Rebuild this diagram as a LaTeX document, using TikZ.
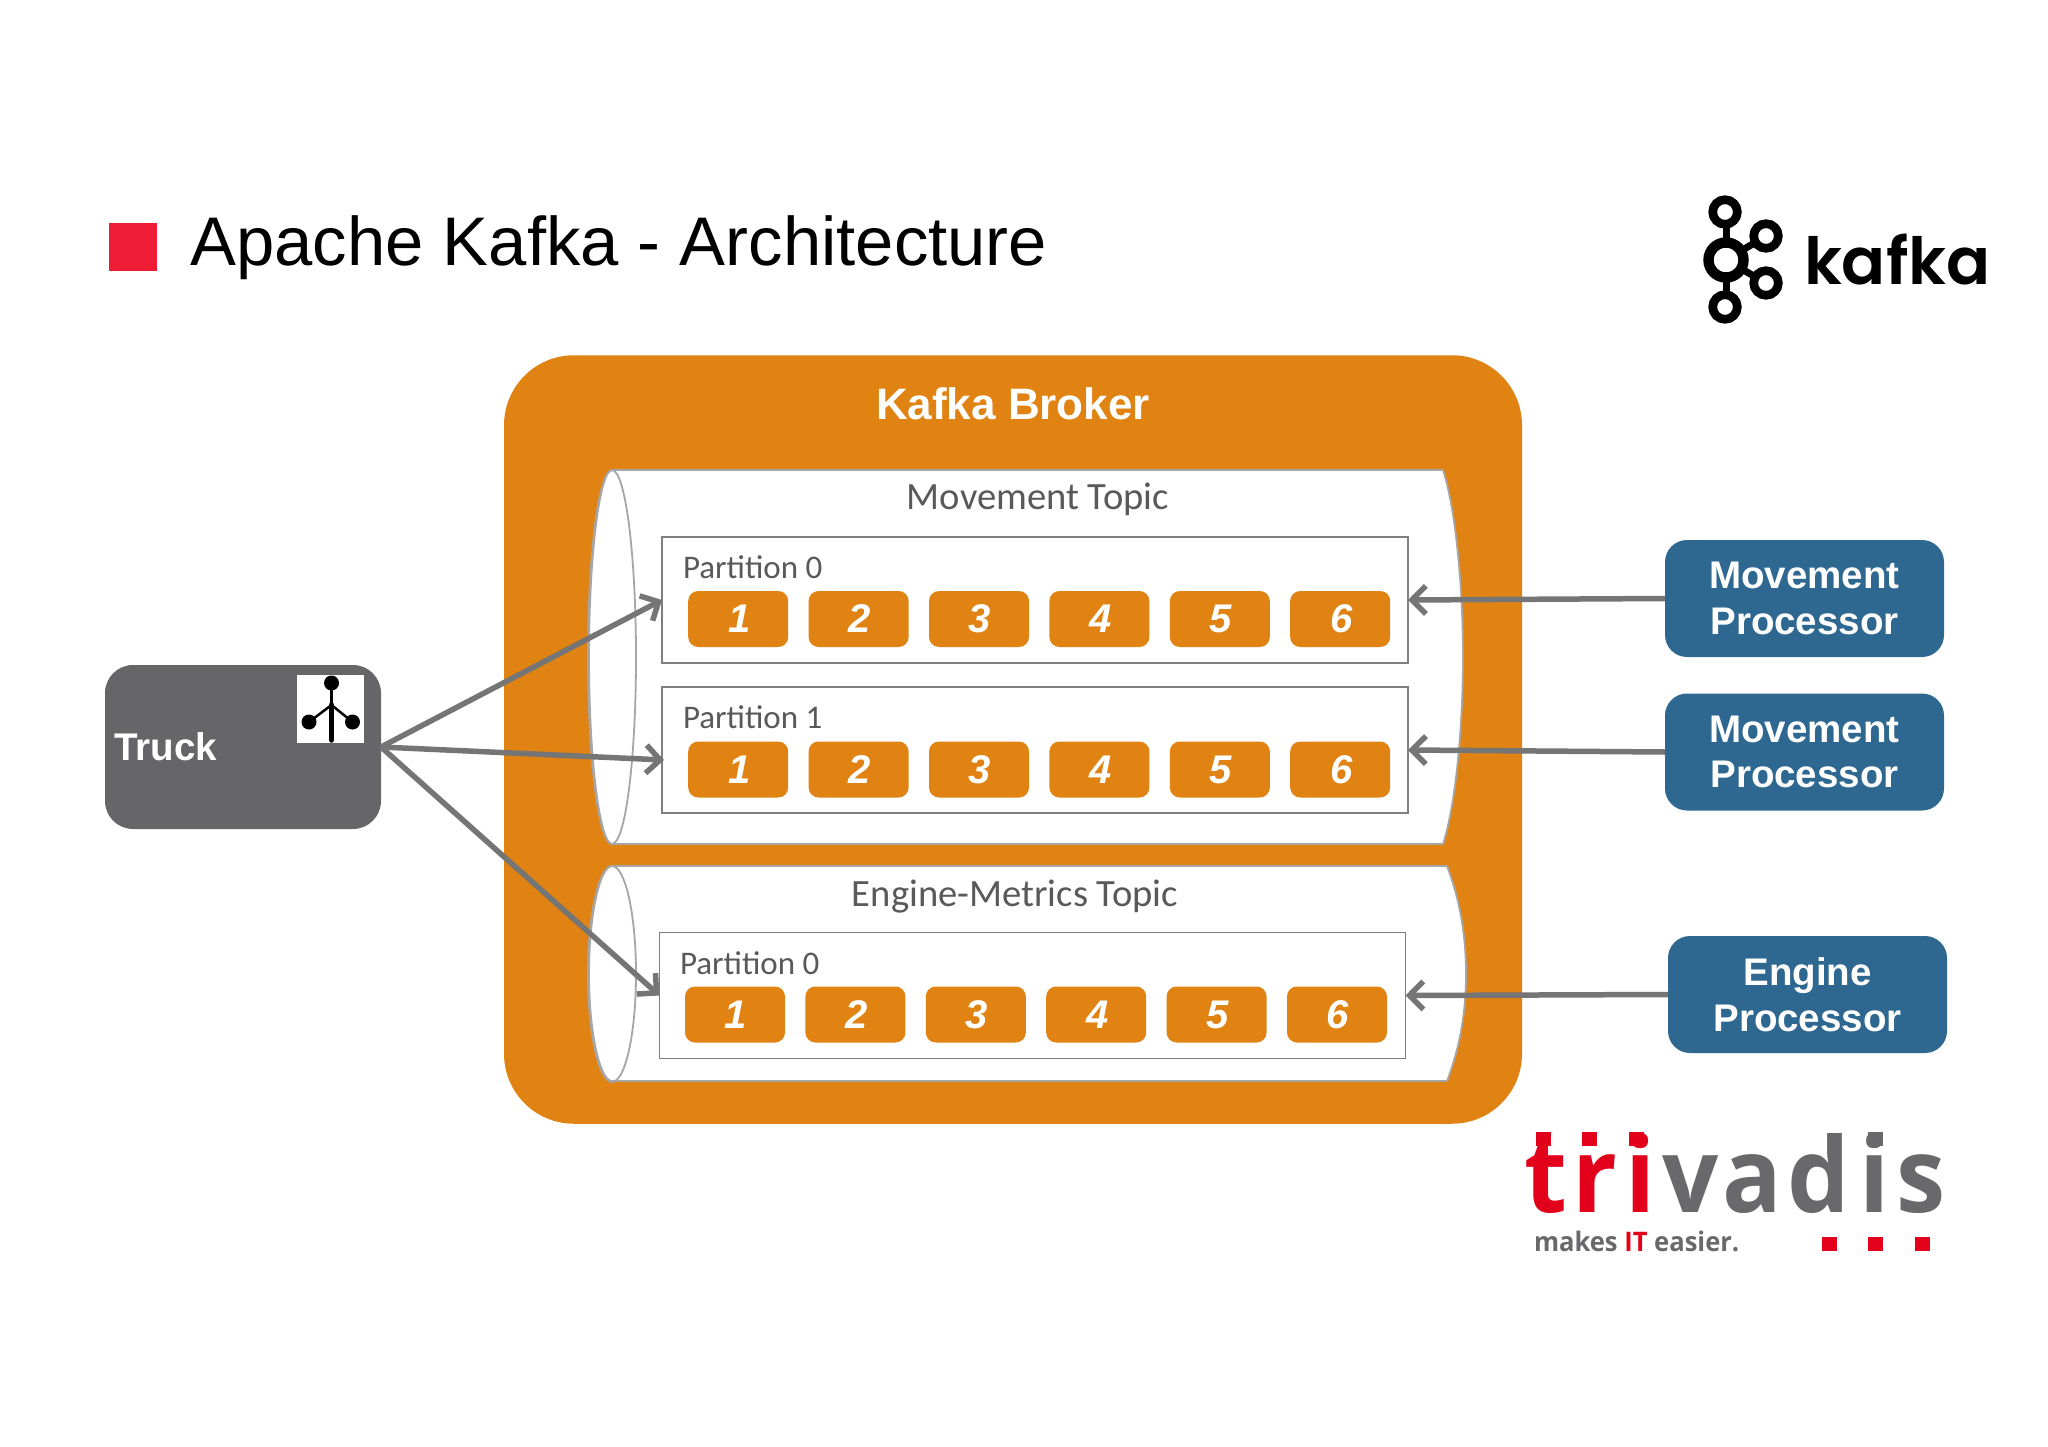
\documentclass[tikz,border=0pt]{standalone}
\usepackage{fontspec}
\usetikzlibrary{arrows.meta}
\setmainfont{Liberation Sans}
\newfontfamily\calfont{Carlito}
\newfontfamily\popfont{Poppins SemiBold}
\newfontfamily\ossemi[FakeStretch=0.95]{Open Sans}
\definecolor{brokerorange}{HTML}{E08312}
\definecolor{truckgrey}{HTML}{666568}
\definecolor{procblue}{HTML}{2E6891}
\definecolor{linegrey}{HTML}{757575}
\definecolor{framegrey}{HTML}{7F7F7F}
\definecolor{cylgrey}{HTML}{A6A6A6}
\definecolor{labelgrey}{HTML}{595959}
\definecolor{titlered}{HTML}{EF1C36}
\definecolor{trired}{HTML}{E2001A}
\definecolor{trigrey}{HTML}{69696B}
\tikzset{
  x=1pt,y=-1pt,
  plain/.style={inner sep=0pt,outer sep=0pt},
  broker/.style={plain,fill=brokerorange,rounded corners=70pt,minimum width=1018pt,minimum height=768.5pt},
  truckbox/.style={plain,fill=truckgrey,rounded corners=28pt,minimum width=276pt,minimum height=164pt},
  proc/.style={plain,fill=procblue,rounded corners=22pt,minimum width=279pt,minimum height=117pt,text=white,align=center,font=\fontsize{38.5}{45.5}\selectfont\bfseries,execute at begin node=\rule{0pt}{33pt}},
  partbox/.style={plain,draw=framegrey,line width=1.8pt,fill=white,minimum width=746pt,minimum height=126pt},
  seg/.style={plain,fill=brokerorange,rounded corners=10pt,minimum width=100pt,minimum height=56pt,text=white,font=\fontsize{40}{42}\selectfont\bfseries\itshape},
  parttext/.style={plain,anchor=base west,text=labelgrey,font=\calfont\fontsize{33}{36}\selectfont},
  topictext/.style={plain,anchor=base,text=labelgrey,font=\calfont\fontsize{38.6}{40}\selectfont},
  cyl/.style={draw=cylgrey,line width=1.8pt,fill=white},
  conn/.style={draw=linegrey,line width=5.5pt,-{Straight Barb[length=14pt,width=28pt,line width=5.5pt]}},
  ringsmall/.style={draw=black,line width=8.7pt,fill=white},
  ringbig/.style={draw=black,line width=10.4pt,fill=white},
  spoke/.style={draw=black,line width=7pt},
}
\begin{document}
\begin{tikzpicture}
\useasboundingbox (0,0) rectangle (2048,1447);
\fill[white] (0,0) rectangle (2048,1447);
% title
\fill[titlered] (109,223) rectangle (157,271);
\node[plain,anchor=base west,font=\fontsize{68.8}{72}\selectfont,text=black] (title) at (190.5,266) {Apache Kafka - Architecture};
% kafka logo
\draw[spoke] (1726,212) -- (1726,307);
\draw[spoke] (1726,260) -- (1766,236);
\draw[spoke] (1726,260) -- (1766,283);
\draw[ringsmall] (1725,212) circle (12.3);
\draw[ringsmall] (1725,307) circle (12.3);
\draw[ringsmall] (1766,236) circle (12.3);
\draw[ringsmall] (1766,283) circle (12.3);
\draw[ringbig] (1726,260) circle (17.5);
\node[plain,anchor=base west,font=\popfont\fontsize{65}{70}\selectfont,text=black] (kafkaword) at (1804,285) {kafka};
% broker
\node[broker] (brk) at (1013,739.5) {};
\node[plain,anchor=base,text=white,font=\fontsize{44}{48}\selectfont\bfseries] (brktext) at (1013,419) {Kafka Broker};
% movement cylinder
\path[cyl] (612,470) -- (1443,470) .. controls (1456,510) and (1463,590) .. (1463,657) .. controls (1463,724) and (1456,804) .. (1443,844) -- (612,844) .. controls (600,844) and (589,761) .. (589,657) .. controls (589,553) and (600,470) .. (612,470) -- cycle;
\draw[cyl,fill=none] (612,657) ellipse [x radius=24,y radius=187];
\node[topictext] (mt) at (1038,509) {Movement Topic};
% engine cylinder
\path[cyl] (612,866) -- (1447,866) .. controls (1458,895) and (1466,930) .. (1466,974) .. controls (1466,1018) and (1458,1052) .. (1447,1081) -- (612,1081) .. controls (600,1081) and (589,1033) .. (589,974) .. controls (589,914) and (600,866) .. (612,866) -- cycle;
\draw[cyl,fill=none] (612,974) ellipse [x radius=24,y radius=108];
\node[topictext] (et) at (1015,906) {Engine-Metrics Topic};
% partitions
\node[partbox] (pa) at (1035,600) {};
\node[partbox] (pb) at (1035,750) {};
\node[partbox] (pc) at (1032.5,995.5) {};
\node[parttext] (pat) at (683,578) {Partition 0};
\node[parttext] (pbt) at (683,728) {Partition 1};
\node[parttext] (pct) at (680,974) {Partition 0};
\foreach \n in {1,...,6}{
  \node[seg] (sa\n) at ({738.2+(\n-1)*120.4},619) {\kern2pt\n};
  \node[seg] (sb\n) at ({738.2+(\n-1)*120.4},769.5) {\kern2pt\n};
  \node[seg] (sc\n) at ({735+(\n-1)*120.4},1014.5) {\kern2pt\n};
}
% truck
\node[truckbox] (truck) at (243,747) {};
\node[plain,anchor=base west,text=white,font=\fontsize{38.6}{40}\selectfont\bfseries] (trucktext) at (114,760) {Truck};
\fill[white] (297,675) rectangle (364,743);
\draw[black,line width=2.5pt] (331.5,683) -- (331.5,705);
\draw[black,line width=2.5pt] (309,722) -- (331.5,705) -- (352.5,722);
\draw[black,line width=5.5pt,line cap=round] (331.5,705) -- (331.5,740);
\fill[black] (331.5,683) circle (7.5);
\fill[black] (309,722) circle (7.5);
\fill[black] (352.5,722) circle (7.5);
% processors
\node[proc] (ma) at (1804.5,598.5) {Movement\\Processor};
\node[proc] (mb) at (1804.5,752) {Movement\\Processor};
\node[proc] (ep) at (1807.5,994.5) {Engine\\Processor};
% connectors
\coordinate (pbin) at (664,760);
\draw[conn] (truck.east) -- (pa.west);
\draw[conn] (truck.east) -- (pbin);
\draw[conn] (truck.east) -- (pc.west);
\draw[conn] (ma.west) -- (pa.east);
\draw[conn] (mb.west) -- (pb.east);
\draw[conn] (ep.west) -- (pc.east);
% trivadis logo
\node[plain,anchor=base west,font=\ossemi\fontsize{104}{110}\selectfont\bfseries] (tri) at (1524,1212) {\textcolor{trired}{t\kern6pt r\kern8pt i}\kern7pt\textcolor{trigrey}{v\kern3pt a\kern6pt d\kern9pt i\kern7pt s}};
\fill[trired] (1536,1132) rectangle (1550.5,1146);
\fill[trired] (1582,1132) rectangle (1596.5,1146);
\fill[trired] (1629,1132) rectangle (1643.5,1146);
\fill[trigrey] (1868,1132) rectangle (1882.5,1146);
\fill[trired] (1822,1237) rectangle (1836.5,1251);
\fill[trired] (1868,1237) rectangle (1882.5,1251);
\fill[trired] (1915,1237) rectangle (1929.5,1251);
\node[plain,anchor=base west,font=\ossemi\fontsize{26.9}{30}\selectfont\bfseries,text=trigrey] (tag) at (1534,1251) {makes \textcolor{trired}{IT} easier.};
\end{tikzpicture}
\end{document}
